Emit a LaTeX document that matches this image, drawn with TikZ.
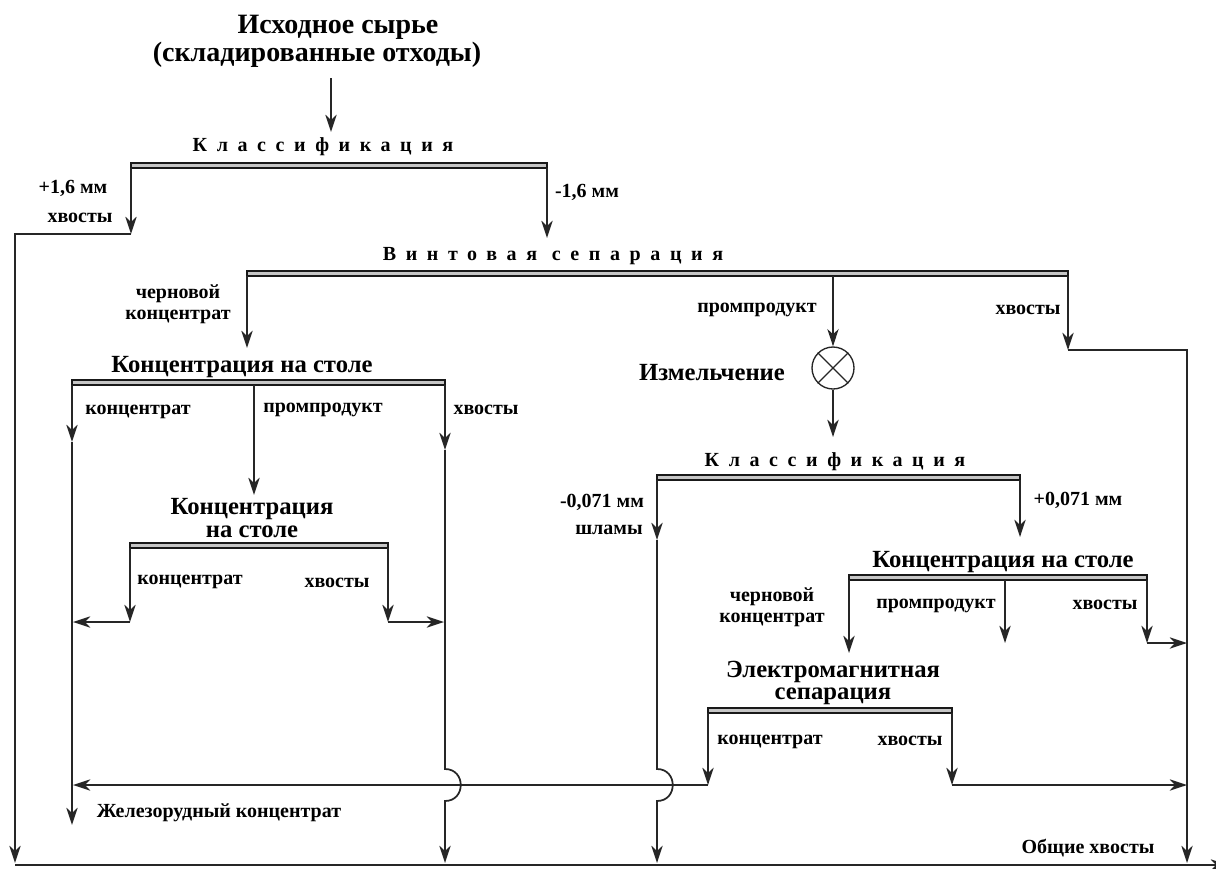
\documentclass[tikz,border=0pt]{standalone}
\usepackage{fontspec}
\setmainfont{Liberation Serif}
\usetikzlibrary{arrows.meta}
\begin{document}
\begin{tikzpicture}[x=0.75pt,y=-0.75pt,
  flow/.style={draw=black!85, line width=1.3pt},
  arr/.style={flow, -{Stealth[length=13pt,width=8.5pt,inset=4pt]}},
  sepbar/.style={draw=black!90, fill=gray!45, line width=1pt},
  titletext/.style={font=\fontsize{21}{23}\selectfont\bfseries, inner sep=0pt},
  head/.style={font=\fontsize{18.5}{17}\selectfont\bfseries, inner sep=0pt, align=center},
  spaced/.style={font=\fontsize{15}{17}\selectfont\bfseries\addfontfeature{LetterSpace=48}, inner sep=0pt},
  lbl/.style={font=\fontsize{15}{15.5}\selectfont\bfseries, inner sep=0pt, align=center},
  mill/.style={draw=black!85, circle, minimum size=31.5pt, inner sep=0pt, line width=1pt},
]
\useasboundingbox (0,0) rectangle (1216,868);
\fill[white] (0,0) rectangle (1216,868);
\clip (0,0) rectangle (1216,868);

% ---------- coordinates ----------
\coordinate (a0) at (331,78);   \coordinate (a1) at (331,132);
\coordinate (b1l) at (131,168); \coordinate (b1r) at (547,168);
\coordinate (p1) at (131,234);  \coordinate (p2) at (15,234);  \coordinate (p3) at (15,863);
\coordinate (p4) at (547,238);
\coordinate (b2l) at (247,276); \coordinate (b2m) at (833,276); \coordinate (b2r) at (1068,276);
\coordinate (p5) at (247,348);
\coordinate (p6) at (1068,350); \coordinate (p7) at (1187,350); \coordinate (p8) at (1187,863);
\coordinate (p9) at (833,437);
\coordinate (b3l) at (657,480); \coordinate (b3r) at (1020,480);
\coordinate (p10) at (657,540); \coordinate (p11) at (657,769); \coordinate (p12) at (657,801); \coordinate (p13) at (657,863);
\coordinate (p14) at (1020,537);
\coordinate (b4l) at (849,580); \coordinate (b4m) at (1005,580); \coordinate (b4r) at (1147,580);
\coordinate (p15) at (849,653); \coordinate (p16) at (1005,643); \coordinate (p17) at (1147,643); \coordinate (p18) at (1187,643);
\coordinate (b5l) at (708,713); \coordinate (b5r) at (952,713);
\coordinate (p19) at (708,785); \coordinate (p20) at (952,785); \coordinate (p21) at (1187,785); \coordinate (p22) at (73,785);
\coordinate (b6l) at (72,385);  \coordinate (b6m) at (254,385); \coordinate (b6r) at (445,385);
\coordinate (p23) at (72,442);  \coordinate (p24) at (72,825);
\coordinate (p25) at (254,495);
\coordinate (p26) at (445,450); \coordinate (p27) at (445,769); \coordinate (p28) at (445,801); \coordinate (p29) at (445,863);
\coordinate (b7l) at (130,548); \coordinate (b7r) at (388,548);
\coordinate (p30) at (130,622); \coordinate (p31) at (73,622); \coordinate (p32) at (388,622); \coordinate (p33) at (444,622);
\coordinate (p34) at (15,865);  \coordinate (p35) at (1228,865);

% ---------- texts ----------
\node[titletext] (src1) at (338,27) {Исходное сырье};
\node[titletext] (src2) at (317,55) {(складированные отходы)};
\node[spaced] (cls1) at (323,147) {Классификация};
\node[lbl] (l1) at (73,188) {+1,6 мм};
\node[lbl] (l2) at (80,218) {хвосты};
\node[lbl] (l3) at (587,192) {-1,6 мм};
\node[spaced] (vs) at (553,256) {Винтовая сепарация};
\node[lbl] (l4) at (178,304) {черновой\\концентрат};
\node[lbl] (l5) at (757,310) {промпродукт};
\node[lbl] (l6) at (1028,310) {хвосты};
\node[mill] (ml) at (833,368) {};
\node[head] (mlt) at (712,373) {Измельчение};
\node[spaced] (cls3) at (835,462) {Классификация};
\node[lbl] (l7) at (602,502) {-0,071 мм};
\node[lbl] (l8) at (609,530) {шламы};
\node[lbl] (l9) at (1078,500) {+0,071 мм};
\node[head] (ct3) at (1003,562) {Концентрация на столе};
\node[lbl] (l10) at (772,607) {черновой\\концентрат};
\node[lbl] (l11) at (936,606) {промпродукт};
\node[lbl] (l12) at (1105,605) {хвосты};
\node[head] (em) at (833,683) {Электромагнитная\\сепарация};
\node[lbl] (l13) at (770,742) {концентрат};
\node[lbl] (l14) at (910,741) {хвосты};
\node[head] (ct1) at (242,367) {Концентрация на столе};
\node[lbl] (l15) at (138,412) {концентрат};
\node[lbl] (l16) at (323,410) {промпродукт};
\node[lbl] (l17) at (486,410) {хвосты};
\node[head] (ct2) at (252,518) {Концентрация\\на столе};
\node[lbl] (l18) at (190,582) {концентрат};
\node[lbl] (l19) at (337,583) {хвосты};
\node[lbl] (fe) at (219,813) {Железорудный концентрат};
\node[lbl] (tot) at (1088,848) {Общие хвосты};

% ---------- bars ----------
\draw[sepbar] (131,163) rectangle (b1r);
\draw[sepbar] (247,271) rectangle (b2r);
\draw[sepbar] (657,475) rectangle (b3r);
\draw[sepbar] (849,575) rectangle (b4r);
\draw[sepbar] (708,708) rectangle (b5r);
\draw[sepbar] (72,380) rectangle (b6r);
\draw[sepbar] (130,543) rectangle (b7r);

% ---------- mill cross ----------
\draw[flow, line width=0.9pt] (ml.north west) -- (ml.south east);
\draw[flow, line width=0.9pt] (ml.north east) -- (ml.south west);

% ---------- connectors ----------
\draw[arr] (a0) -- (a1);
\draw[arr] (b1l) -- (p1);
\draw[arr] (p1) -- (p2) -- (p3);
\draw[arr] (b1r) -- (p4);
\draw[arr] (b2l) -- (p5);
\draw[arr] (b2m) -- (ml.north);
\draw[arr] (b2r) -- (p6);
\draw[arr] (p6) -- (p7) -- (p8);
\draw[arr] (ml.south) -- (p9);
\draw[arr] (b3l) -- (p10);
\draw[arr] (p10) -- (p11) .. controls (678,769) and (678,801) .. (p12) -- (p13);
\draw[arr] (b3r) -- (p14);
\draw[arr] (b4l) -- (p15);
\draw[arr] (b4m) -- (p16);
\draw[arr] (b4r) -- (p17);
\draw[arr] (p17) -- (p18);
\draw[arr] (b5l) -- (p19);
\draw[arr] (b5r) -- (p20);
\draw[arr] (p20) -- (p21);
\draw[arr] (p19) -- (p22);
\draw[arr] (b6l) -- (p23);
\draw[arr] (p23) -- (p24);
\draw[arr] (b6m) -- (p25);
\draw[arr] (b6r) -- (p26);
\draw[arr] (p26) -- (p27) .. controls (466,769) and (466,801) .. (p28) -- (p29);
\draw[arr] (b7l) -- (p30);
\draw[arr] (p30) -- (p31);
\draw[arr] (b7r) -- (p32);
\draw[arr] (p32) -- (p33);
\draw[arr] (p34) -- (p35);
\end{tikzpicture}
\end{document}
